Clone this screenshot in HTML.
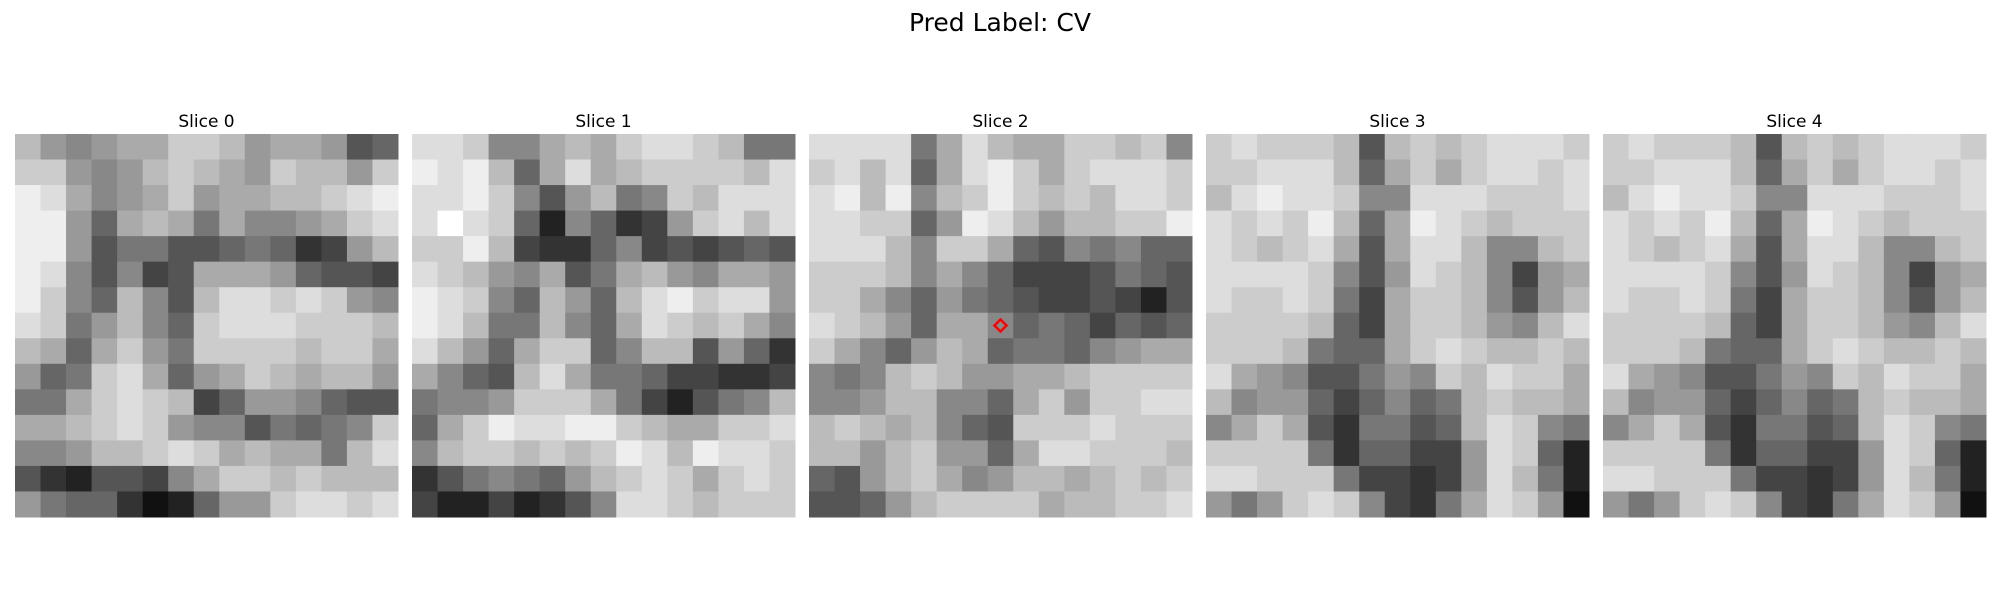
<!DOCTYPE html>
<html><head><meta charset="utf-8">
<style>
html,body{margin:0;padding:0;background:#fff;width:2000px;height:600px;overflow:hidden;}
svg text{font-family:"DejaVu Sans","Liberation Sans",sans-serif;}
</style></head>
<body>
<svg id="fig" width="2000" height="600" xmlns="http://www.w3.org/2000/svg">
<text x="1000" y="31" font-size="25" text-anchor="middle" fill="#000">Pred Label: CV</text>
</svg>
<script>
const sliceTitles = ["Slice 0","Slice 1","Slice 2","Slice 3","Slice 4"];
const slice0 = ["b989aaccb9aa956","cc989bcba9cbb9c","eda89ac9aabbcde","ee96aba7a889acd","ee957755676349b","ed85845aaa96554","ec86b85bddcdc98","dc79b86cdddcccb","ba6ac97ccccbcca","967cda69acbabb9","77acdcb46998655","aabcdc98857678c","889bbcdcabaa7bd","5325548accbcbbb","976631269 9cddcd".replace(" ","")];
const slice1 = ["ddc88abacddcb77","edeb6adabccccbd","ddec859b78cbddd","dfdc6286349cdbd","cceb43368454565","dcb98a57ab98aa9","edc86b96bdecdd9","edb77b86adcbca8","db96acc68bb5963","a865bda77644334","7889ccca742578b","6aceddeecbaaccd","8bccbcbcedbeddc","3578769bcdcacdc","42242358ddcbccc"];
const slice2 = ["dddd7adbaaccbc8","cdbd6adecacdddc","debe8bcecbcbddc","ddcc69edb9bbcce","dddb8cca6587866","cccb8a864445765","cca869765445425","dcb96aa86764656","ca869ba677689aa","878bcb99aabcccc","889bb886ac9ccdd","bcbab865cccdccc","bb9bc996addcccb","659bca89bbabcbc","5569bccccabbccd"];
const slice3 = ["cdcccb5bcbcdddc","ccdddb6acacddcd","bdeddc88dddcccd","dcdceb6aedcbccc","dcbcda5addb88bc","ddddc859dcb849a","dccdc74accb859b","ccccb64accb98bd","cccb766acdcbbcb","da9855798cbdcca","b899646867bcbba","8aca537756bdc87","cccc7366449dc62","ddccc744349db72","979cdc8437adc91"];
const slice4 = slice3.slice();
const slices = [slice0, slice1, slice2, slice3, slice4];
const markerRow = 7, markerCol = 7, markerSlice = 2;

const svg = document.getElementById('fig');
const NS = 'http://www.w3.org/2000/svg';
const panelX0 = 15, panelStep = 397, panelY = 134, panelSize = 383;
function xCell(p, c, n){ return panelX0 + p*panelStep + c*panelSize/n; }
function yCell(r, n){ return panelY + r*panelSize/n; }
function gray(ch){ const v = Math.round(parseInt(ch,16)*255/15); return 'rgb('+v+','+v+','+v+')'; }

slices.forEach((rows, p) => {
  const g = document.createElementNS(NS,'g');
  
  
  const n = rows.length;
  rows.forEach((row, r) => {
    for (let c = 0; c < row.length; c++) {
      const rect = document.createElementNS(NS,'rect');
      
      
      const x0 = xCell(p, c, row.length), x1 = xCell(p, c+1, row.length);
      const y0 = yCell(r, n), y1 = yCell(r+1, n);
      rect.setAttribute('x', x0); rect.setAttribute('y', y0);
      rect.setAttribute('width', x1 - x0 + 0.5); rect.setAttribute('height', y1 - y0 + 0.5);
      rect.setAttribute('fill', gray(row[c]));
      g.appendChild(rect);
    }
  });
  svg.appendChild(g);
  const t = document.createElementNS(NS,'text');
  
  
  t.setAttribute('x', panelX0 + p*panelStep + panelSize/2);
  t.setAttribute('y', 127);
  t.setAttribute('font-size', '17');
  t.setAttribute('text-anchor', 'middle');
  t.textContent = sliceTitles[p];
  svg.appendChild(t);
});

const n2 = slices[markerSlice].length;
const cx = (xCell(markerSlice, markerCol, n2) + xCell(markerSlice, markerCol+1, n2)) / 2;
const cy = (yCell(markerRow, n2) + yCell(markerRow+1, n2)) / 2;
const d = document.createElementNS(NS,'polygon');


d.setAttribute('points', (cx)+','+(cy-6)+' '+(cx+6)+','+cy+' '+cx+','+(cy+6)+' '+(cx-6)+','+cy);
d.setAttribute('fill', 'none');
d.setAttribute('stroke', '#ff0000');
d.setAttribute('stroke-width', '2.5');
svg.appendChild(d);
</script>
</body></html>
